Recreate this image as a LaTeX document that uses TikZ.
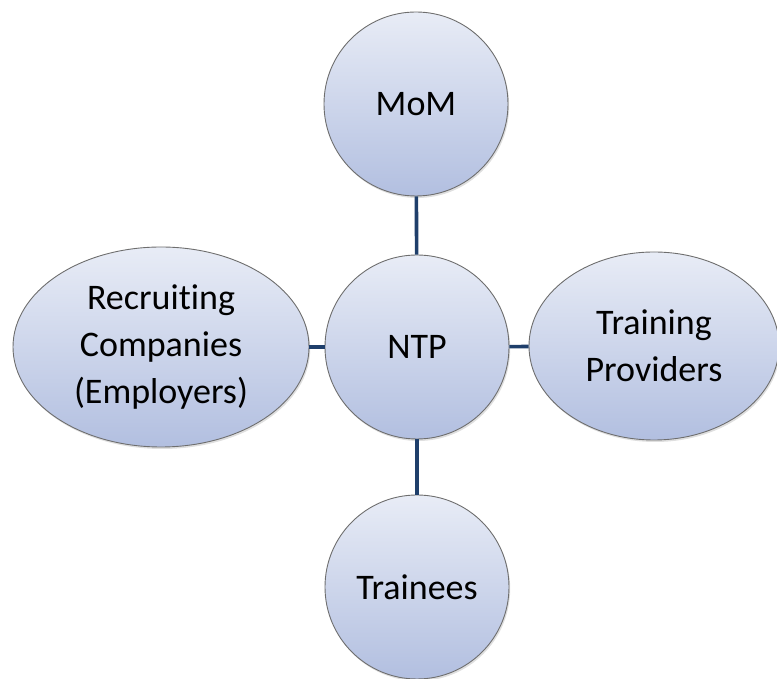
\documentclass[tikz,border=0pt]{standalone}
\usepackage{fontspec}
\setmainfont{Carlito}[Ligatures=NoCommon]
\usetikzlibrary{shapes.geometric,shadows}
\definecolor{topc}{HTML}{E8ECF6}
\definecolor{botc}{HTML}{B2BFE0}
\definecolor{edgec}{HTML}{6E6E6E}
\definecolor{linkc}{HTML}{1F3F6B}
\tikzset{
  bub/.style={draw=edgec, line width=0.9pt, top color=topc, bottom color=botc,
    inner sep=0pt, align=center, font=\fontsize{36}{47}\selectfont,
    drop shadow={opacity=0.25, shadow xshift=1.2pt, shadow yshift=-2pt}},
  circ/.style={bub, circle, minimum size=184pt},
  ell/.style={bub, ellipse},
  link/.style={draw=linkc, line width=3.6pt}
}
\begin{document}
\begin{tikzpicture}[x=1pt,y=1pt]
\useasboundingbox (0,0) rectangle (777,679);
\node[circ] (mom) at (416,575) {MoM};
\node[circ] (ntp) at (417,332) {NTP};
\node[circ] (tra) at (417,92) {Trainees};
\node[ell, minimum width=296pt, minimum height=200pt] (rec) at (161,332) {Recruiting\\Companies\\(Employers)};
\node[ell, minimum width=250pt, minimum height=188pt] (tp) at (654,333) {Training\\Providers};
\draw[link] (mom) -- (ntp);
\draw[link] (ntp) -- (tra);
\draw[link] (rec) -- (ntp);
\draw[link] (ntp) -- (tp);
\end{tikzpicture}
\end{document}
